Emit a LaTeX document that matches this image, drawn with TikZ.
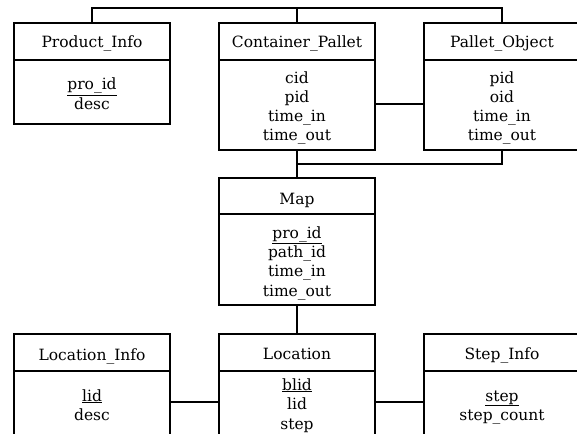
\documentclass[tikz,border=0pt]{standalone}
\usepackage{fontspec}
\newfontfamily\tabfont{DejaVu Serif}
\begin{document}
\begin{tikzpicture}[x=1pt,y=-1pt,
  line width=1.8pt,
  tblbox/.style={draw, rectangle, minimum width=156pt, inner sep=0pt, outer sep=0pt, anchor=north},
  txt/.style={font=\tabfont\fontsize{15.5}{19}\selectfont, anchor=base, inner sep=0pt},
  conn/.style={line width=1.8pt}]
\useasboundingbox (0,0) rectangle (577,433);
\clip (0,0) rectangle (577,433);
\fill[white] (0,0) rectangle (577,433);
% ---------- boxes ----------
\node[tblbox, minimum height=37pt] (piH) at (92,23) {};
\node[tblbox, minimum height=64pt] (piB) at (piH.south) {};
\node[tblbox, minimum height=37pt] (cpH) at (297,23) {};
\node[tblbox, minimum height=90pt] (cpB) at (cpH.south) {};
\node[tblbox, minimum height=37pt] (poH) at (502,23) {};
\node[tblbox, minimum height=90pt] (poB) at (poH.south) {};
\node[tblbox, minimum height=36pt] (mpH) at (297,178) {};
\node[tblbox, minimum height=91pt] (mpB) at (mpH.south) {};
\node[tblbox, minimum height=37pt] (liH) at (92,334) {};
\node[tblbox, minimum height=75pt] (liB) at (liH.south) {};
\node[tblbox, minimum height=37pt] (loH) at (297,334) {};
\node[tblbox, minimum height=75pt] (loB) at (loH.south) {};
\node[tblbox, minimum height=37pt] (siH) at (502,334) {};
\node[tblbox, minimum height=75pt] (siB) at (siH.south) {};
% ---------- texts ----------
\node[txt] (piT) at (92,48) {Product\_Info};
\node[txt] (pi1) at (92,90) {\underline{pro\_id}};
\node[txt] (pi2) at (92,109) {desc};
\node[txt] (cpT) at (297,48) {Container\_Pallet};
\node[txt] (cp1) at (297,83.5) {cid};
\node[txt] (cp2) at (297,102.5) {pid};
\node[txt] (cp3) at (297,121.5) {time\_in};
\node[txt] (cp4) at (297,140.5) {time\_out};
\node[txt] (poT) at (502,48) {Pallet\_Object};
\node[txt] (po1) at (502,83.5) {pid};
\node[txt] (po2) at (502,102.5) {oid};
\node[txt] (po3) at (502,121.5) {time\_in};
\node[txt] (po4) at (502,140.5) {time\_out};
\node[txt] (mpT) at (297,204) {Map};
\node[txt] (mp1) at (297,238) {\underline{pro\_id}};
\node[txt] (mp2) at (297,257.3) {path\_id};
\node[txt] (mp3) at (297,276.6) {time\_in};
\node[txt] (mp4) at (297,296) {time\_out};
\node[txt] (liT) at (92,360) {Location\_Info};
\node[txt] (li1) at (92,401) {\underline{lid}};
\node[txt] (li2) at (92,420) {desc};
\node[txt] (loT) at (297,359.5) {Location};
\node[txt] (lo1) at (297,390) {\underline{blid}};
\node[txt] (lo2) at (297,409.5) {lid};
\node[txt] (lo3) at (297,429) {step};
\node[txt] (siT) at (502,359) {Step\_Info};
\node[txt] (si1) at (502,401) {\underline{step}};
\node[txt] (si2) at (502,420) {step\_count};
% ---------- connectors ----------
\coordinate (topY) at (0,8);
\coordinate (midY) at (0,104);
\coordinate (lowY) at (0,164);
\coordinate (botY) at (0,402);
\draw[conn] (piH.north) |- (poH.north |- topY) -- (poH.north);
\draw[conn] (cpH.north) -- (cpH.north |- topY);
\draw[conn] (cpB.east |- midY) -- (poB.west |- midY);
\draw[conn] (poB.south) |- (cpB.south |- lowY);
\draw[conn] (cpB.south) -- (mpH.north);
\draw[conn] (mpB.south) -- (loH.north);
\draw[conn] (liB.east |- botY) -- (loB.west |- botY);
\draw[conn] (loB.east |- botY) -- (siB.west |- botY);
\end{tikzpicture}
\end{document}
